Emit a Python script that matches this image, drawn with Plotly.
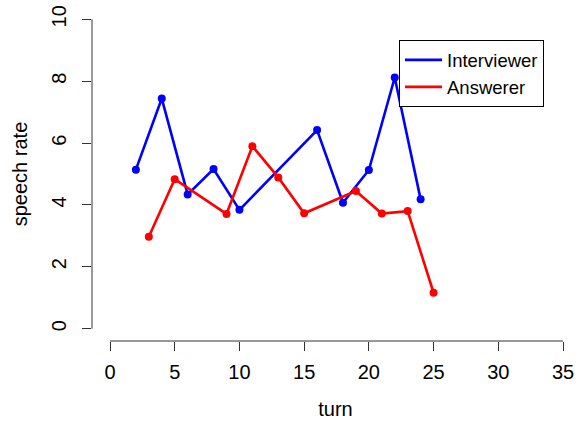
import plotly.graph_objects as go

# Data
interviewer_turn = [2, 4, 6, 8, 10, 16, 18, 20, 22, 24]
interviewer_rate = [5.14, 7.44, 4.34, 5.16, 3.84, 6.42, 4.07, 5.13, 8.12, 4.18]
answerer_turn = [3, 5, 9, 11, 13, 15, 19, 21, 23, 25]
answerer_rate = [2.97, 4.83, 3.71, 5.90, 4.89, 3.73, 4.45, 3.72, 3.80, 1.16]
x_ticks = [0, 5, 10, 15, 20, 25, 30, 35]
y_ticks = [0, 2, 4, 6, 8, 10]

W, H = 579, 422
L, R, T, B = 92, 0, 7, 81
BLUE, RED = "#0000FF", "#FF0000"

fig = go.Figure()
fig.add_trace(go.Scatter(x=interviewer_turn, y=interviewer_rate, mode="lines+markers",
                         name="Interviewer", showlegend=False, line=dict(color=BLUE, width=2.6),
                         marker=dict(color=BLUE, size=8)))
fig.add_trace(go.Scatter(x=answerer_turn, y=answerer_rate, mode="lines+markers",
                         name="Answerer", showlegend=False, line=dict(color=RED, width=2.6),
                         marker=dict(color=RED, size=8)))
# legend entries (line only, as in R's legend)
fig.add_trace(go.Scatter(x=[None], y=[None], mode="lines", name="Interviewer",
                         line=dict(color=BLUE, width=2.6)))
fig.add_trace(go.Scatter(x=[None], y=[None], mode="lines", name="Answerer",
                         line=dict(color=RED, width=2.6)))

font = "Liberation Sans, Arial, sans-serif"
px_per_x = (563 - 110) / 35.0
x_lo = 0 - (110 - L) / px_per_x
x_hi = (W - R - 110) / px_per_x

# R-style axis lines spanning tick range
fig.add_shape(type="line", xref="x", yref="paper", x0=x_ticks[0], x1=x_ticks[-1], y0=0, y1=0,
              line=dict(color="#333333", width=1))
fig.add_shape(type="line", xref="paper", yref="y", x0=0, x1=0, y0=y_ticks[0], y1=y_ticks[-1],
              line=dict(color="#333333", width=1))

fig.update_layout(
    width=W, height=H,
    margin=dict(l=L, r=R, t=T, b=B, autoexpand=False),
    paper_bgcolor="white", plot_bgcolor="white",
    font=dict(family=font, color="black", size=20),
    showlegend=True,
    legend=dict(x=(399 - L) / (W - L - R), y=(341.4 - 40) / (341.4 - 6.6),
                xanchor="left", yanchor="top",
                bgcolor="white", bordercolor="black", borderwidth=1,
                font=dict(size=18.5, family=font), itemwidth=37, tracegroupgap=0),
    xaxis=dict(range=[x_lo, x_hi], tickvals=x_ticks, ticks="outside", ticklen=9,
               tickcolor="#333333", showline=False, showgrid=False, zeroline=False,
               tickfont=dict(size=20), ticklabelstandoff=4,
               title=dict(text="turn", font=dict(size=20), standoff=19)),
    yaxis=dict(range=[-0.4, 10.4], tickvals=y_ticks, ticks="outside", ticklen=9,
               tickcolor="#333333", showline=False, showgrid=False, zeroline=False,
               tickangle=-90, tickfont=dict(size=20), ticklabelstandoff=8,
               title=dict(text="speech rate", font=dict(size=20), standoff=15)),
)

fig.write_html("out.html")
